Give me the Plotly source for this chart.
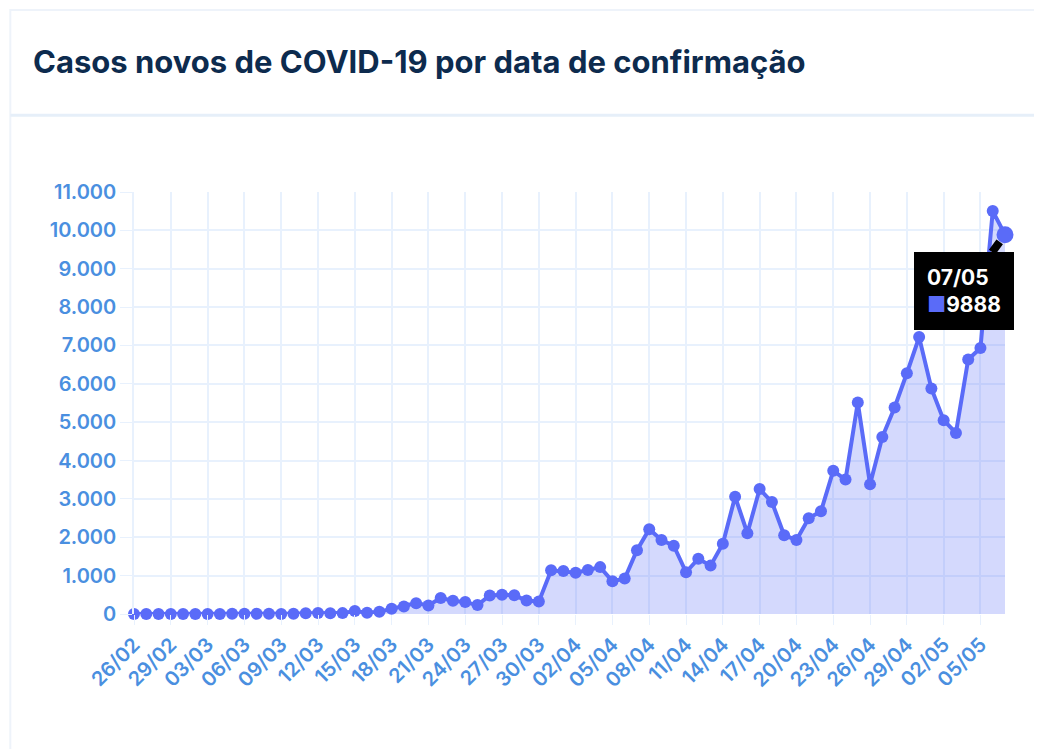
import plotly.graph_objects as go

# ---- data ----
dates = (
    ["26/02", "27/02", "28/02", "29/02"]
    + [f"{d:02d}/03" for d in range(1, 32)]
    + [f"{d:02d}/04" for d in range(1, 31)]
    + [f"{d:02d}/05" for d in range(1, 8)]
)
new_cases = [
    1, 0, 0, 1,
    0, 0, 0, 1, 4, 6, 6, 6, 0, 9, 18, 25, 21, 23, 79, 34, 57, 137, 193, 283, 224,
    418, 345, 310, 232, 482, 502, 487, 352, 323, 1138,
    1119, 1074, 1146, 1222, 852, 926, 1661, 2210, 1930, 1781, 1089, 1442, 1261, 1832,
    3058, 2105, 3257, 2917, 2055, 1927, 2498, 2678, 3735, 3503, 5514, 3379, 4613, 5385,
    6276, 7218,
    5880, 5050, 4720, 6633, 6935, 10503, 9888,
]
tick_labels = dates[::3]
y_ticks = list(range(0, 11001, 1000))
highlight_label = "07/05"
highlight_value = 9888

title_text = "Casos novos de COVID-19 por data de confirmação"

LINE = "#5a6bf8"
TICK = "#4a8fe0"
GRID = "#e8f1fd"
FONT = "Inter, Roboto, sans-serif"

marker_sizes = [12] * len(new_cases)
marker_sizes[-1] = 17

fig = go.Figure()
fig.add_trace(go.Scatter(
    x=dates, y=new_cases,
    mode="lines+markers",
    line=dict(color=LINE, width=4),
    marker=dict(color=LINE, size=marker_sizes, opacity=1, line=dict(width=0)),
    fill="tozeroy",
    fillcolor="rgba(90,107,248,0.26)",
    cliponaxis=False,
    hoverinfo="x+y",
))

fig.add_annotation(
    x=highlight_label, y=highlight_value,
    text=f"<b>{highlight_label}</b><br><span style='color:{LINE}'>■</span><b>{highlight_value}</b>",
    showarrow=True, arrowhead=0, arrowwidth=8, arrowcolor="black", standoff=9,
    ax=-41, ay=56,
    bgcolor="black", bordercolor="black", borderpad=12,
    font=dict(family=FONT, size=21, color="white"),
    align="left",
)

# card outline and separator
fig.add_shape(type="rect", xref="paper", yref="paper",
              x0=-0.142, x1=1.04, y0=-0.4, y1=1.431,
              line=dict(color="#eef3fa", width=2), layer="below")
fig.add_shape(type="line", xref="paper", yref="paper",
              x0=-0.142, x1=1.04, y0=1.182, y1=1.182,
              line=dict(color="#e6eff9", width=3), layer="below")

W, H = 1034, 741
fig.update_layout(
    width=W, height=H,
    margin=dict(l=126, r=37, t=184, b=135),
    paper_bgcolor="white", plot_bgcolor="white",
    separators=",.",
    showlegend=False,
    title=dict(
        text=f"<b>{title_text}</b>",
        x=25 / W, xanchor="left", xref="container",
        y=1 - 54 / H, yanchor="middle", yref="container",
        font=dict(family=FONT, size=31, color="#0d2b4e", weight=800),
    ),
    font=dict(family=FONT),
)
fig.update_xaxes(
    type="category",
    range=[0, len(dates) - 1],
    tickmode="array", tickvals=tick_labels, ticktext=tick_labels,
    tickangle=-45,
    tickfont=dict(size=20, color=TICK, weight=600),
    showgrid=True, gridcolor=GRID, gridwidth=1.5,
    ticks="outside", ticklen=10, tickcolor=GRID,
    showline=False, zeroline=False,
)
fig.update_yaxes(
    range=[0, 11000],
    tickmode="array", tickvals=y_ticks,
    tickformat=",",
    tickfont=dict(size=20, color=TICK, weight=600),
    showgrid=True, gridcolor=GRID, gridwidth=1.5,
    ticks="outside", ticklen=12, tickcolor=GRID,
    zeroline=False, showline=True, linecolor=GRID, linewidth=1.5,
)

fig.write_html("out.html")
